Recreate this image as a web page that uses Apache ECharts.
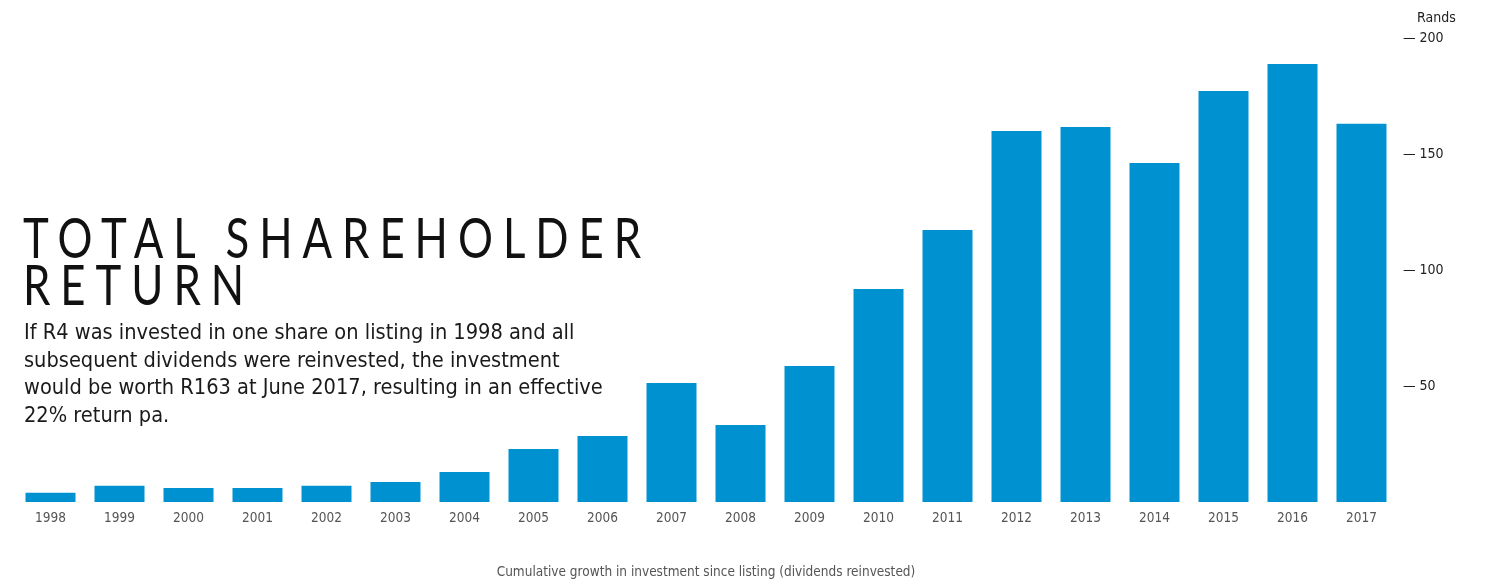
<!DOCTYPE html>
<html>
<head>
<meta charset="utf-8">
<script src="https://cdn.jsdelivr.net/npm/echarts@6/dist/echarts.min.js"></script>
<style>
  html, body { margin: 0; padding: 0; background: #ffffff; }
  #wrap { position: relative; width: 1485px; height: 580px; }
  #chart { position: absolute; left: 0; top: 0; width: 1485px; height: 580px; }
  #headline {
    position: absolute; left: 23px; top: 213px;
    font-family: Lato, "DejaVu Sans Condensed", sans-serif;
    font-size: 56px; line-height: 47px; letter-spacing: 12.8px;
    transform: scaleX(0.78); transform-origin: 0 0; white-space: nowrap;
    color: #111; font-weight: 400; margin: 0; pointer-events: none;
  }
</style>
</head>
<body>
<div id="wrap">
  <div id="chart"></div>
  <h1 id="headline">TOTAL SHAREHOLDER<br>RETURN</h1>
</div>
<script>
// Value of R4 invested at listing, dividends reinvested (Rands)
const years = ['1998','1999','2000','2001','2002','2003','2004','2005','2006','2007',
               '2008','2009','2010','2011','2012','2013','2014','2015','2016','2017'];
const values = [4, 7, 6, 6, 7, 8.6, 12.9, 22.8, 28.4, 51.3,
                33.2, 58.6, 91.8, 117.2, 159.9, 161.6, 146.1, 177.2, 188.8, 163];
const yTicks = [0, 50, 100, 150, 200];

const narrow = '"Liberation Sans Narrow", "DejaVu Sans Condensed", sans-serif';

const intro = [
  'If R4 was invested in one share on listing in 1998 and all',
  'subsequent dividends were reinvested, the investment',
  'would be worth R163 at June 2017, resulting in an effective',
  '22% return pa.'
].join('\n');

const chart = echarts.init(document.getElementById('chart'));
chart.setOption({
  animation: false,
  backgroundColor: '#ffffff',
  grid: { left: 16, right: 89, top: 38, bottom: 78, containLabel: false },
  xAxis: {
    type: 'category',
    data: years,
    axisLine: { show: false },
    axisTick: { show: false },
    axisLabel: { color: '#555', fontFamily: narrow, fontSize: 13.5, margin: 9 }
  },
  yAxis: {
    type: 'value',
    position: 'right',
    min: yTicks[0],
    max: yTicks[yTicks.length - 1],
    interval: 50,
    splitLine: { show: false },
    axisLine: { show: false },
    axisTick: { show: false },
    name: 'Rands',
    nameLocation: 'end',
    nameGap: 13,
    nameTextStyle: { color: '#222', fontFamily: narrow, fontSize: 14, align: 'left', padding: [0, 0, 0, 21] },
    axisLabel: {
      color: '#222', fontFamily: narrow, fontSize: 14, margin: 7,
      formatter: v => (v === 0 ? '' : '\u2014 ' + v)
    }
  },
  series: [{
    type: 'bar',
    data: values,
    barWidth: 50,
    itemStyle: { color: '#0092d0' }
  }],
  graphic: [
    {
      type: 'text', left: 24, top: 320,
      style: { text: intro, fill: '#1a1a1a', font: '21.6px ' + narrow, lineHeight: 27.5 }
    },
    {
      type: 'text', x: 706, y: 572,
      style: { text: 'Cumulative growth in investment since listing (dividends reinvested)',
               fill: '#555', font: '13.5px ' + narrow, align: 'center', verticalAlign: 'middle' }
    }
  ]
});
</script>
</body>
</html>
